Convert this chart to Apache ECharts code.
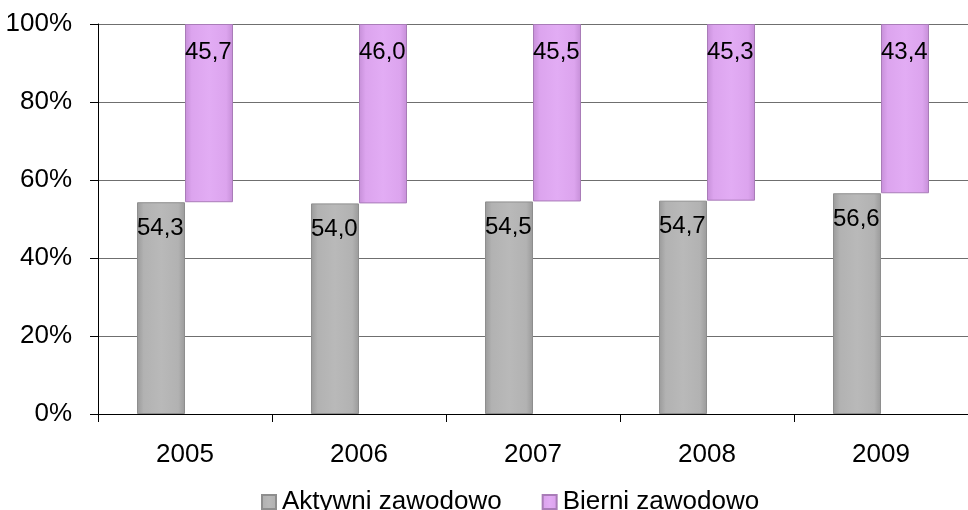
<!DOCTYPE html>
<html>
<head>
<meta charset="utf-8">
<script src="https://cdn.jsdelivr.net/npm/echarts@6/dist/echarts.min.js"></script>
<style>html,body{margin:0;padding:0;background:#fff}#c{width:968px;height:510px}</style>
</head>
<body>
<div id="c"></div>
<script>
var categories = ['2005', '2006', '2007', '2008', '2009'];
var aktywni = [54.3, 54.0, 54.5, 54.7, 56.6];
var bierni = [45.7, 46.0, 45.5, 45.3, 43.4];
var seriesNames = ['Aktywni zawodowo', 'Bierni zawodowo'];
var yTicks = [0, 20, 40, 60, 80, 100];

var FONT = '"Liberation Sans", Arial, sans-serif';
function grad(c1, c2, c3) {
  return new echarts.graphic.LinearGradient(0, 0, 1, 0, [
    {offset: 0, color: c3}, {offset: 0.14, color: c2}, {offset: 0.5, color: c1},
    {offset: 0.86, color: c2}, {offset: 1, color: c3}
  ]);
}
function fmt(p) { return Number(p.value).toFixed(1).replace('.', ','); }

var chart = echarts.init(document.getElementById('c'), null, {renderer: 'canvas'});
chart.setOption({
  animation: false,
  backgroundColor: '#ffffff',
  grid: {left: 98, top: 24, width: 880, height: 390, containLabel: false},
  xAxis: {
    type: 'category', data: categories,
    axisLine: {lineStyle: {color: '#000', width: 1}},
    axisTick: {show: true, length: 8, lineStyle: {color: '#000'}},
    axisLabel: {color: '#000', fontSize: 26, fontFamily: FONT, margin: 28},
    splitLine: {show: false}
  },
  yAxis: {
    type: 'value', min: yTicks[0], max: yTicks[yTicks.length - 1], interval: 20,
    axisLine: {show: true, lineStyle: {color: '#000', width: 1}},
    axisTick: {show: true, length: 8, lineStyle: {color: '#000'}},
    axisLabel: {color: '#000', fontSize: 26, fontFamily: FONT, margin: 26, formatter: '{value}%'},
    splitLine: {lineStyle: {color: '#6f6f6f', width: 1}}
  },
  legend: {
    data: seriesNames, left: 256, top: 484, icon: 'rect', itemWidth: 14, itemHeight: 14,
    itemGap: 40,
    textStyle: {color: '#000', fontSize: 26, fontFamily: FONT, padding: [0, 0, 0, 1]}
  },
  series: [
    {
      name: seriesNames[0], type: 'bar', stack: 'a', data: aktywni, barWidth: 48, barGap: '0%',
      itemStyle: {color: grad('#b9b9b9', '#b2b2b2', '#9a9a9a'), borderColor: '#8e8e8e', borderWidth: 1},
      label: {show: true, position: [0, 26], align: 'left', verticalAlign: 'middle', formatter: fmt,
        color: '#000', fontSize: 24, fontFamily: FONT}
    },
    {
      name: 'base', type: 'bar', stack: 'b', data: aktywni, barWidth: 48, barGap: '0%',
      itemStyle: {color: 'transparent'}, silent: true, tooltip: {show: false}
    },
    {
      name: seriesNames[1], type: 'bar', stack: 'b', data: bierni, barWidth: 48, barGap: '0%',
      itemStyle: {color: grad('#e2acf4', '#dca4ee', '#c68fd8'), borderColor: '#a97cb8', borderWidth: 1},
      label: {show: true, position: [0, 28], align: 'left', verticalAlign: 'middle', formatter: fmt,
        color: '#000', fontSize: 24, fontFamily: FONT}
    }
  ]
});
</script>
</body>
</html>
